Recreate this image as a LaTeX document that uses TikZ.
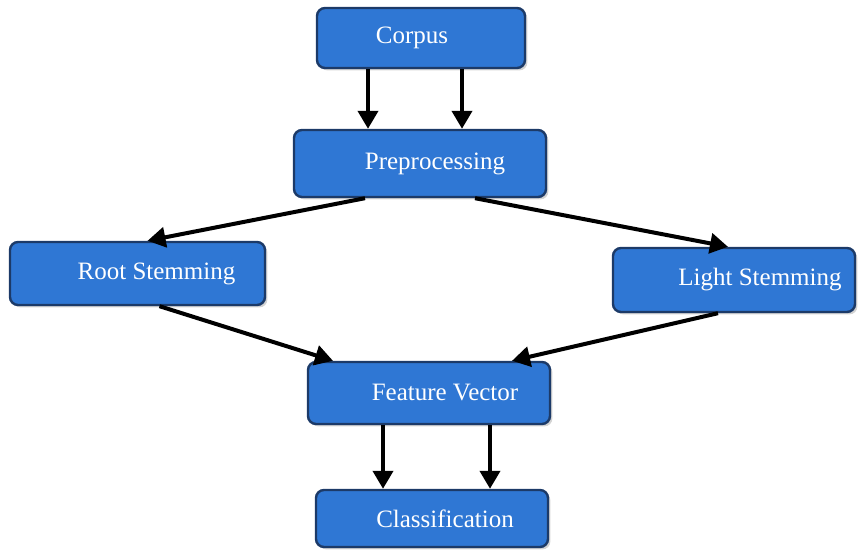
\documentclass[tikz,border=0pt]{standalone}
\usepackage{fontspec}
\setmainfont{Liberation Serif}
\usetikzlibrary{arrows.meta,shadows}
\definecolor{boxblue}{RGB}{47,119,212}
\definecolor{boxline}{RGB}{28,58,104}
\tikzset{
  stage/.style={ % blue step box of the pipeline
    draw=boxline, line width=1.2pt, fill=boxblue,
    rounded corners=4pt, text=white, inner sep=2pt,
    font=\fontsize{12.5}{15}\selectfont,
    drop shadow={opacity=0.35, shadow xshift=1.2pt, shadow yshift=-1.2pt}
  },
  flow/.style={ % thick black arrow between stages
    draw=black, line width=2pt,
    -{Triangle[width=10pt,length=9pt]}
  }
}

\begin{document}
\begin{tikzpicture}[x=0.5pt,y=-0.5pt]
  \useasboundingbox (0,0) rectangle (863,550);

  \node[stage, minimum width=104pt, minimum height=30pt] (corpus) at (421,38) {\hspace*{-9pt}Corpus};
  \node[stage, minimum width=126pt, minimum height=33.5pt] (prep) at (420,163.5) {\hspace*{15pt}Preprocessing};
  \node[stage, minimum width=127.5pt, minimum height=31.5pt] (root) at (137.5,273.5) {\hspace*{19pt}Root Stemming};
  \node[stage, minimum width=121pt, minimum height=32pt] (light) at (734,280) {\hspace*{26pt}Light Stemming};
  \node[stage, minimum width=121pt, minimum height=31pt] (feat) at (429,393) {\hspace*{16pt}Feature Vector};
  \node[stage, minimum width=116pt, minimum height=28.5pt] (cls) at (432,518.5) {\hspace*{13pt}Classification};

  % corpus -> preprocessing
  \draw[flow] ([xshift=-26.5pt]corpus.south) -- ([xshift=-26.5pt]corpus.south |- prep.north);
  \draw[flow] ([xshift=20.5pt]corpus.south) -- ([xshift=20.5pt]corpus.south |- prep.north);

  % preprocessing -> stemmers
  \draw[flow] ([xshift=-27.5pt]prep.south) -- ([xshift=5pt]root.north);
  \draw[flow] ([xshift=27.5pt]prep.south) -- ([xshift=-3pt]light.north);

  % stemmers -> feature vector
  \draw[flow] ([xshift=11pt]root.south) -- ([xshift=-48pt]feat.north);
  \draw[flow] ([xshift=-8pt]light.south) -- ([xshift=41.5pt]feat.north);

  % feature vector -> classification
  \draw[flow] ([xshift=-23pt]feat.south) -- ([xshift=-23pt]feat.south |- cls.north);
  \draw[flow] ([xshift=30.5pt]feat.south) -- ([xshift=30.5pt]feat.south |- cls.north);
\end{tikzpicture}
\end{document}
